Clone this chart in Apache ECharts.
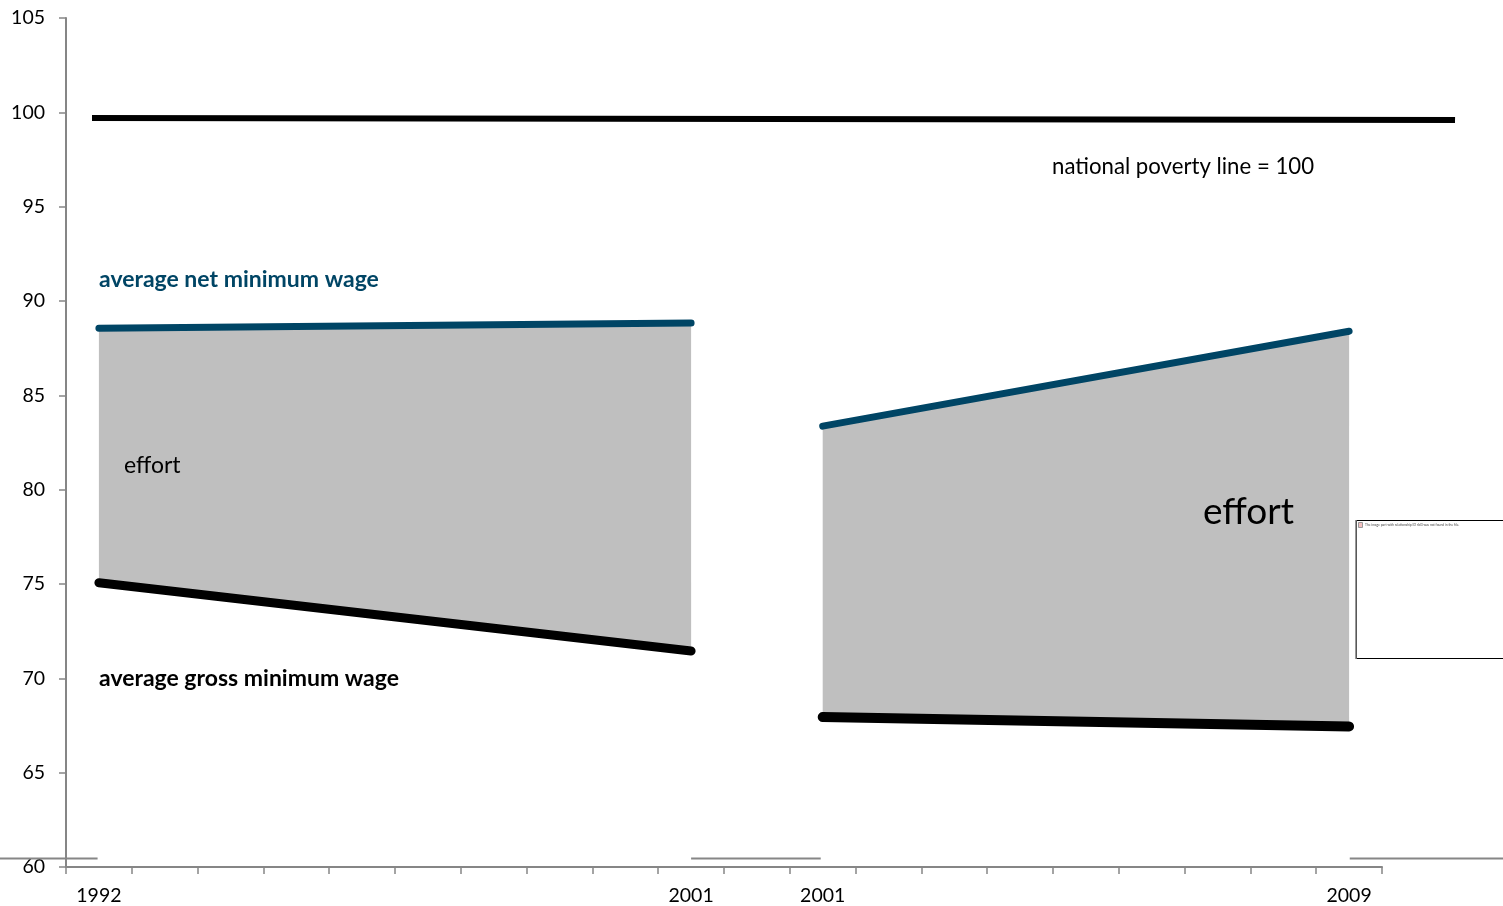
<!DOCTYPE html>
<html><head><meta charset="utf-8">
<style>html,body{margin:0;padding:0;background:#fff}#c{width:1503px;height:906px}</style>
<script src="https://cdn.jsdelivr.net/npm/echarts@6/dist/echarts.min.js"></script>
</head><body><div id="c"></div>
<script>
const categories = ['1992','','','','','','','','','2001','','2001','','','','','','','','2009'];
const yTicks = {min:60, max:105, interval:5};
const netWage = [88.56,null,null,null,null,null,null,null,null,88.83,null,83.37,null,null,null,null,null,null,null,88.4];
const grossWage = [75.07,null,null,null,null,null,null,null,null,71.45,null,67.95,null,null,null,null,null,null,null,67.45];
const povertyLine = [[0.395,99.7],[21.11,99.6]];
const strayRuleLeft = [[-1.1,60.45],[0.48,60.45]];
const strayRuleMid = [[9.5,60.45],[11.47,60.45]];
const strayRuleRight = [[19.51,60.45],[21.9,60.45]];
const bandSpans = [[0,9],[11,19]];
const FONT = 'Lato';
const bandData = bandSpans.map(([a,b]) => [a,b,grossWage[a],grossWage[b],netWage[a],netWage[b]]);

function text(x,y,t,size,color,weight){
  return {type:'text',x,y,z:20,silent:true,style:{text:t,x:0,y:0,fill:color||'#000',font:(weight||'normal')+' '+size+'px '+FONT,textVerticalAlign:'middle'}};
}
function stray(d){
  return {type:'line',xAxisIndex:1,yAxisIndex:1,data:d,symbol:'none',clip:false,silent:true,z:1,lineStyle:{color:'#868686',width:2,cap:'butt'}};
}
function seg(src,a,b){return src.map((v,i)=> i>=a&&i<=b ? v : null);}

const chart = echarts.init(document.getElementById('c'),null,{renderer:'canvas'});
const lineSeries = [];
bandSpans.forEach(([a,b],i)=>{
  lineSeries.push({type:'line',xAxisIndex:0,yAxisIndex:0,data:seg(netWage,a,b),connectNulls:true,symbol:'none',silent:true,z:5,lineStyle:{color:'#004565',width:7,cap:'round'}});
  lineSeries.push({type:'line',xAxisIndex:0,yAxisIndex:0,data:seg(grossWage,a,b),connectNulls:true,symbol:'none',silent:true,z:5,lineStyle:{color:'#000',width:i?10:9,cap:'round'}});
});
chart.setOption({
  animation:false,
  backgroundColor:'#fff',
  grid:[{left:66,top:18,width:1316,height:849},{left:0,top:18,width:1503,height:849}],
  xAxis:[{type:'category',gridIndex:0,data:categories,boundaryGap:true,
    axisLine:{show:true,lineStyle:{color:'#868686',width:2}},
    axisTick:{show:true,alignWithLabel:false,interval:0,length:7,lineStyle:{color:'#868686',width:1.5}},
    axisLabel:{show:true,interval:0,margin:19,color:'#000',fontFamily:FONT,fontSize:19.5},
    splitLine:{show:false}},
   {type:'value',gridIndex:1,min:-66/65.8,max:1437/65.8,show:false}],
  yAxis:[{type:'value',gridIndex:0,min:yTicks.min,max:yTicks.max,interval:yTicks.interval,
    axisLine:{show:true,lineStyle:{color:'#868686',width:2}},
    axisTick:{show:true,length:7,lineStyle:{color:'#868686',width:1.5}},
    axisLabel:{show:true,margin:21,color:'#000',fontFamily:FONT,fontSize:19.5,padding:[2,0,0,0]},
    splitLine:{show:false}},
   {type:'value',gridIndex:1,min:yTicks.min,max:yTicks.max,show:false}],
  series:[
    {type:'custom',xAxisIndex:0,yAxisIndex:0,silent:true,z:2,data:bandData,encode:{x:[0,1],y:[2,3,4,5]},
     renderItem:(p,api)=>{
       const a=api.value(0),b=api.value(1);
       const pts=[api.coord([a,api.value(2)]),api.coord([b,api.value(3)]),api.coord([b,api.value(5)]),api.coord([a,api.value(4)])];
       return {type:'polygon',shape:{points:pts},style:{fill:'#bfbfbf'}};
     }},
    stray(strayRuleLeft),stray(strayRuleMid),stray(strayRuleRight),
    ...lineSeries,
    {type:'line',xAxisIndex:1,yAxisIndex:1,data:povertyLine,symbol:'none',clip:false,silent:true,z:5,lineStyle:{color:'#000',width:6,cap:'butt'}}
  ],
  graphic:{elements:[
    text(1052,166.5,'national poverty line = 100',22.2),
    text(99,279.5,'average net minimum wage',23,'#004565','bold'),
    text(99,678.5,'average gross minimum wage',23,'#000','bold'),
    text(124,466,'effort',23),
    text(1203,512,'effort',37),
    {type:'rect',silent:true,shape:{x:1356.5,y:520.5,width:160,height:138},style:{fill:'#fff',stroke:'#000',lineWidth:1},z:3},
    {type:'line',silent:true,shape:{x1:1356,y1:520,x2:1356,y2:659},style:{stroke:'#777',lineWidth:1.5},z:4},
    {type:'rect',silent:true,shape:{x:1358.5,y:522.5,width:4,height:5},style:{fill:'#f4c0c0',stroke:'#999',lineWidth:1},z:4},
    {type:'text',silent:true,x:1365,y:525,z:4,style:{text:'The image part with relationship ID rId3 was not found in the file.',font:'3.3px '+FONT,fill:'#444',textVerticalAlign:'middle'}}
  ]}
});
</script></body></html>
